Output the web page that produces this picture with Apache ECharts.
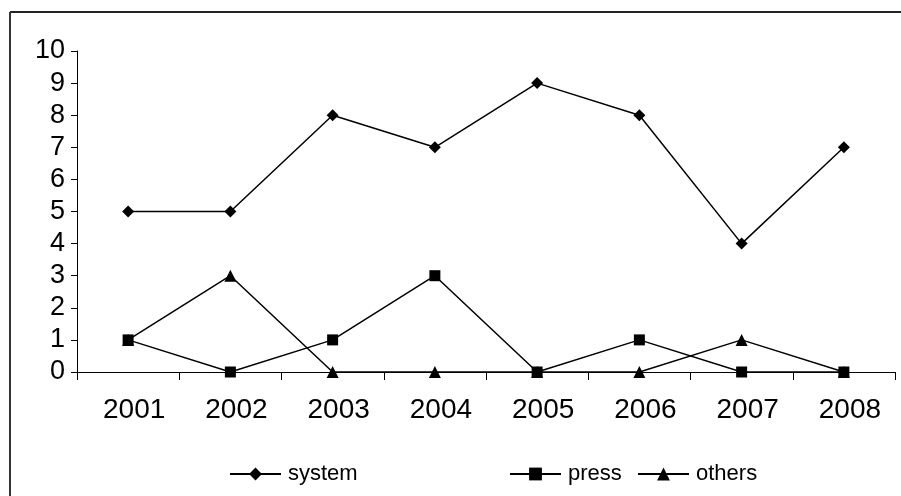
<!DOCTYPE html>
<html>
<head>
<meta charset="utf-8">
<script src="https://cdn.jsdelivr.net/npm/echarts@6/dist/echarts.min.js"></script>
<style>html,body{margin:0;padding:0;background:#fff}#c{width:901px;height:496px}</style>
</head>
<body>
<div id="c"></div>
<script>
const categories = ['2001','2002','2003','2004','2005','2006','2007','2008'];
const systemValues = [5,5,8,7,9,8,4,7];
const pressValues = [1,0,1,3,0,1,0,0];
const othersValues = [1,3,0,0,0,0,1,0];
const yTicks = [0,1,2,3,4,5,6,7,8,9,10];

const font = 'Liberation Sans, Arial, sans-serif';
const chart = echarts.init(document.getElementById('c'), null, {renderer:'canvas'});
function ser(name, data, symbol, size) {
  return {
    name, type:'line', data, symbol, symbolSize:size, showSymbol:true,
    lineStyle:{color:'#000', width:1.5}, itemStyle:{color:'#000'},
    emphasis:{disabled:true}, animation:false
  };
}
function leg(name, left) {
  return {
    left, top:463, padding:0, itemWidth:51, itemHeight:16, itemGap:0,
    textStyle:{fontFamily:font, fontSize:22, color:'#000', padding:[0,0,0,2]},
    data:[name], selectedMode:false
  };
}
chart.setOption({
  animation:false,
  graphic:[
    {type:'line', shape:{x1:10,y1:12,x2:901,y2:12}, style:{stroke:'#222', lineWidth:2}},
    {type:'line', shape:{x1:10,y1:12,x2:10,y2:496}, style:{stroke:'#333', lineWidth:2}}
  ],
  grid:{left:77, right:6, top:51, bottom:124, containLabel:false},
  legend:[leg('system',229), leg('press',509), leg('others',637)],
  xAxis:{
    type:'category', data:categories, boundaryGap:true,
    axisLine:{lineStyle:{color:'#000', width:1}},
    axisTick:{show:true, length:8, lineStyle:{color:'#000'}, alignWithLabel:false},
    axisLabel:{fontFamily:font, fontSize:28, color:'#000', margin:24, padding:[0,0,0,12]}
  },
  yAxis:{
    type:'value', min:0, max:10, interval:1,
    axisLine:{show:true, lineStyle:{color:'#000', width:1}},
    axisTick:{show:true, length:6, lineStyle:{color:'#000'}},
    splitLine:{show:false},
    axisLabel:{fontFamily:font, fontSize:27, color:'#000', margin:12,
      formatter:v=>yTicks.includes(v)?String(v):''}
  },
  series:[
    ser('system', systemValues, 'diamond', 12),
    ser('others', othersValues, 'triangle', 12),
    ser('press', pressValues, 'rect', 11)
  ]
});
</script>
</body>
</html>
